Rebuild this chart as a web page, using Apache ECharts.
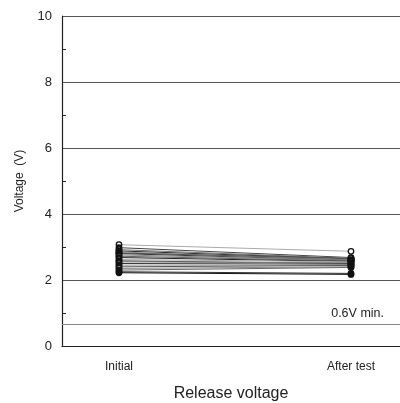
<!DOCTYPE html>
<html><head><meta charset="utf-8">
<script src="https://cdn.jsdelivr.net/npm/echarts@6/dist/echarts.min.js"></script>
<style>html,body{margin:0;padding:0;background:#fff}#c{width:400px;height:403px}</style>
</head><body><div id="c"></div>
<script>
var categories = ['Initial', 'After test'];
var initialValues = [3.07, 2.98, 2.92, 2.88, 2.85, 2.82, 2.80, 2.76, 2.72, 2.68, 2.62, 2.58, 2.55, 2.50, 2.45, 2.40, 2.35, 2.30, 2.25, 2.22];
var afterValues   = [2.87, 2.68, 2.66, 2.64, 2.62, 2.65, 2.60, 2.60, 2.58, 2.56, 2.55, 2.50, 2.52, 2.48, 2.45, 2.44, 2.40, 2.38, 2.20, 2.17];
var filledMarker  = [false, true, false, true, true, false, true, true, false, true, false, true, true, false, true, true, false, true, true, true];
var lineGrays     = ['#aaa', '#444', '#777', '#222', '#999', '#555', '#333', '#888', '#666', '#222', '#aaa', '#444', '#777', '#333', '#999', '#555', '#888', '#666', '#333', '#111'];
var minLineValue = 0.67;
var minLineLabel = '0.6V min.';

var series = initialValues.map(function (v, i) {
  var filled = filledMarker[i];
  return {
    type: 'line',
    data: [[0, v], [1, afterValues[i]]],
    symbol: 'circle',
    symbolSize: 5.5,
    lineStyle: { color: lineGrays[i], width: 1 },
    itemStyle: { color: filled ? '#111' : '#fff', borderColor: '#111', borderWidth: 1.3 },
    emphasis: { disabled: true },
    silent: true,
    z: 3
  };
});
series.push({
  type: 'line',
  data: [],
  silent: true,
  markLine: {
    silent: true,
    symbol: 'none',
    lineStyle: { color: '#888', width: 1, type: 'solid' },
    label: { show: true, position: 'insideEndTop', formatter: minLineLabel, color: '#222', fontSize: 12.5, fontFamily: 'Liberation Sans, Arial, sans-serif', distance: [16, 4] },
    data: [{ yAxis: minLineValue }]
  }
});

var chart = echarts.init(document.getElementById('c'));
chart.setOption({
  animation: false,
  grid: { left: 62, right: 0, top: 16, bottom: 57, outerBoundsMode: 'none', containLabel: false },
  xAxis: {
    type: 'value',
    min: -57 / 232,
    max: 1 + 49 / 232,
    name: 'Release voltage',
    nameLocation: 'middle',
    nameGap: 40,
    nameTextStyle: { fontSize: 16, color: '#222', fontFamily: 'Liberation Sans, Arial, sans-serif' },
    axisLine: { onZero: false, lineStyle: { color: '#222', width: 1.2 } },
    axisTick: { show: false },
    splitLine: { show: false },
    axisLabel: {
      customValues: [0, 1],
      formatter: function (v) { return categories[Math.round(v)]; },
      color: '#222', fontSize: 12, margin: 15, fontFamily: 'Liberation Sans, Arial, sans-serif'
    }
  },
  yAxis: {
    type: 'value',
    min: 0, max: 10, interval: 2,
    name: 'Voltage  (V)',
    nameLocation: 'middle',
    nameGap: 36,
    nameTextStyle: { fontSize: 12, color: '#222', fontFamily: 'Liberation Sans, Arial, sans-serif' },
    axisLine: { show: true, onZero: false, lineStyle: { color: '#222', width: 1.2 } },
    axisTick: { show: false, inside: true, length: 4 },
    minorTick: { show: true, splitNumber: 2, length: 4, lineStyle: { color: '#222' } },
    splitLine: { show: true, lineStyle: { color: '#555', width: 1 } },
    axisLabel: { color: '#222', fontSize: 13, margin: 10, fontFamily: 'Liberation Sans, Arial, sans-serif' }
  },
  series: series
});
</script>
</body></html>
